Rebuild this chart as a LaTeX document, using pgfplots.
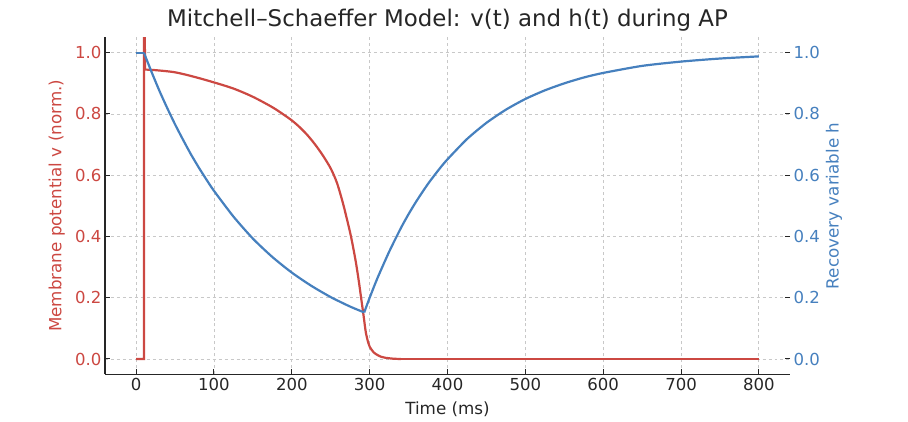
\documentclass[border=0pt]{standalone}
\usepackage{fontspec}
\setmainfont{DejaVu Sans}
\usepackage{pgfplots}
\pgfplotsset{compat=1.18}
\definecolor{vred}{RGB}{204,72,66}
\definecolor{hblue}{RGB}{70,128,190}
\definecolor{txt}{RGB}{38,38,38}
\definecolor{gridc}{RGB}{200,200,200}

\begin{document}
\begin{tikzpicture}[x=1bp,y=1bp]
\useasboundingbox (0,0) rectangle (908,421);
\pgfplotsset{
  common/.style={
    width=685bp, height=336.9bp, scale only axis,
    at={(105bp,46.7bp)}, anchor=south west,
    xmin=-40, xmax=840, ymin=-0.05, ymax=1.05,
    xtick={0,100,200,300,400,500,600,700,800},
    ytick={0,0.2,0.4,0.6,0.8,1.0},
    yticklabel style={/pgf/number format/fixed, /pgf/number format/fixed zerofill, /pgf/number format/precision=1},
    /pgf/number format/assume math mode=true,
    tick align=inside,
    major tick length=5bp,
    tick style={txt, line width=1bp},
    tick label style={font=\fontsize{16.6}{20}\selectfont},
  }
}
% left axis: v(t)
\begin{axis}[common,
  axis x line*=bottom, axis y line*=left,
  x axis line style={-, txt, line width=1.3bp},
  y axis line style={-, txt, line width=1.3bp},
  grid=major,
  grid style={dashed, gridc, line width=0.8bp},
  x tick label style={txt},
  y tick label style={vred},
  xlabel={Time (ms)},
  every axis x label/.style={at={(axis description cs:0.5,0)}, anchor=base, yshift=-39.7bp, txt, font=\fontsize{16.8}{20}\selectfont},
  ylabel={Membrane potential v (norm.)},
  every axis y label/.style={at={(axis description cs:-0.0705,0.5)}, anchor=center, rotate=90, vred, font=\fontsize{16.8}{20}\selectfont},
  title={Mitchell–Schaeffer Model: v(t) and h(t) during AP},
  every axis title/.style={at={(axis description cs:0.5,1)}, anchor=base, yshift=10.4bp, font=\fontsize{23}{26}\selectfont, txt},
]
\addplot[vred, line width=2.2bp] coordinates {
(0,0) (10,0) (10.2,1.3) (11.5,0.945)
};
\addplot[vred, line width=2.2bp, smooth, tension=0.5] coordinates {
(11.5,0.945) (25,0.943) (50,0.936) (75,0.921) (100,0.903) (125,0.883) (150,0.856)
(175,0.822) (190,0.797) (200,0.779) (210,0.757) (220,0.731) (230,0.700) (240,0.664)
(250,0.622) (258,0.575) (265,0.515) (270,0.465) (276,0.400) (282,0.320) (286,0.255)
(289,0.200) (292,0.145) (295,0.088) (298,0.055) (300,0.040) (305,0.022) (310,0.013)
(315,0.007) (320,0.004) (330,0.001) (340,0)
};
\addplot[vred, line width=2.2bp] coordinates {(340,0) (800,0)};
\end{axis}
% right axis: h(t)
\begin{axis}[common,
  axis x line=none, axis y line*=right,
  y axis line style={draw=none},
  y tick label style={hblue},
  ylabel={Recovery variable h},
  every axis y label/.style={at={(axis description cs:1.0642,0.5)}, anchor=center, rotate=90, hblue, font=\fontsize{16.8}{20}\selectfont},
]
\addplot[hblue, line width=2.2bp] coordinates {
(0,1) (10,1)
};
\addplot[hblue, line width=2.2bp, smooth, tension=0.4] coordinates {
(10,1) (20,0.936) (30,0.875) (40,0.819) (50,0.766) (60,0.717) (70,0.670)
(80,0.627) (90,0.587) (100,0.549) (125,0.465) (150,0.393) (175,0.333) (200,0.282)
(225,0.239) (250,0.202) (275,0.171) (293,0.152)
};
\addplot[hblue, line width=2.2bp, smooth, tension=0.4] coordinates {
(293,0.152) (300,0.200) (310,0.264) (325,0.350)
(340,0.427) (350,0.473) (360,0.515) (375,0.572) (390,0.622) (400,0.652) (425,0.718)
(450,0.771) (475,0.814) (500,0.849) (525,0.877) (550,0.900) (575,0.919) (600,0.934)
(650,0.957) (700,0.971) (750,0.981) (800,0.988)
};
\end{axis}
\end{tikzpicture}
\end{document}
